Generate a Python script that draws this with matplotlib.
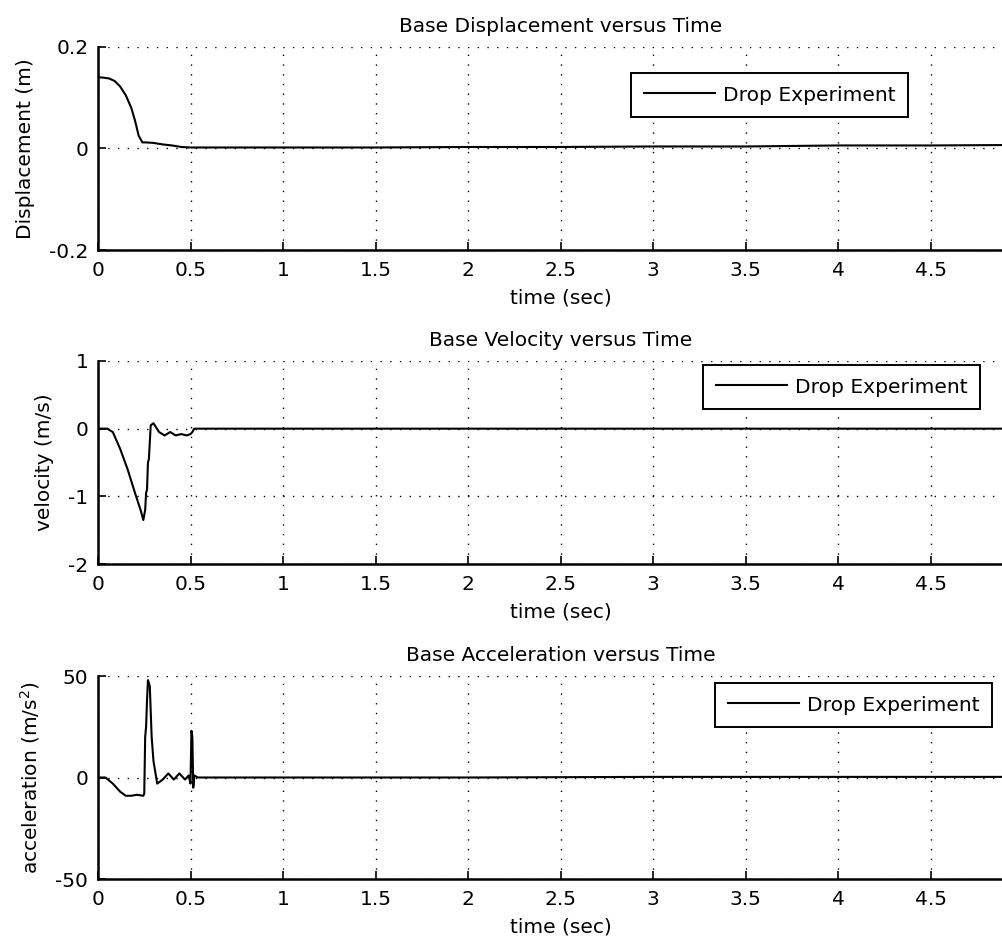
import matplotlib.pyplot as plt

plt.rcParams['font.family'] = ['DejaVu Sans']
plt.rcParams['font.size'] = 14.5

# displacement (m)
t_disp = [0, 0.02, 0.06, 0.09, 0.12, 0.15, 0.18, 0.20, 0.22, 0.24, 0.26, 0.30, 0.35, 0.40, 0.45, 0.50,
          1.0, 1.5, 2.0, 2.5, 3.0, 3.5, 4.0, 4.5, 5.0]
disp = [0.14, 0.14, 0.138, 0.133, 0.122, 0.105, 0.08, 0.055, 0.025, 0.012, 0.012, 0.011, 0.008, 0.006, 0.003, 0.002,
        0.002, 0.002, 0.003, 0.003, 0.004, 0.004, 0.006, 0.006, 0.007]

# velocity (m/s)
t_vel = [0, 0.05, 0.08, 0.12, 0.16, 0.20, 0.23, 0.245, 0.255, 0.26, 0.265, 0.27, 0.275, 0.285, 0.30, 0.33,
         0.36, 0.39, 0.42, 0.45, 0.48, 0.50, 0.51, 0.52, 0.55, 1.0, 2.0, 3.0, 4.0, 5.0]
vel = [0, 0, -0.05, -0.3, -0.6, -0.95, -1.2, -1.35, -1.2, -0.95, -0.9, -0.5, -0.45, 0.05, 0.08, -0.05,
       -0.1, -0.05, -0.1, -0.08, -0.1, -0.08, -0.05, 0, 0, 0, 0, 0, 0, 0]

# acceleration (m/s^2)
t_acc = [0, 0.04, 0.08, 0.12, 0.15, 0.18, 0.21, 0.245, 0.25, 0.255, 0.26, 0.265, 0.27, 0.28, 0.29, 0.30,
         0.32, 0.35, 0.38, 0.41, 0.44, 0.47, 0.49, 0.50, 0.505, 0.51, 0.515, 0.52, 0.54, 1.0, 2.0, 3.0, 4.0, 5.0]
acc = [0, 0, -3, -7, -9, -9, -8.5, -9, -8, 20, 25, 38, 48, 45, 20, 8,
       -3, -1, 2, -1, 2, -1, 1, -3, 23, 20, -5, 1, 0, 0, 0, 0.3, 0.3, 0.3]

titles = ['Base Displacement versus Time', 'Base Velocity versus Time', 'Base Acceleration versus Time']
ylabels = ['Displacement (m)', 'velocity (m/s)', 'acceleration (m/s$^2$)']
ylims = [(-0.2, 0.2), (-2, 1), (-50, 50)]
yticks = [[-0.2, 0, 0.2], [-2, -1, 0, 1], [-50, 0, 50]]
yticklabels = [['-0.2', '0', '0.2'], ['-2', '-1', '0', '1'], ['-50', '0', '50']]
xticks = [0, 0.5, 1, 1.5, 2, 2.5, 3, 3.5, 4, 4.5]
xticklabels = ['0', '0.5', '1', '1.5', '2', '2.5', '3', '3.5', '4', '4.5']

W, H = 1002, 946
fig = plt.figure(figsize=(W / 100, H / 100), dpi=100)
tops = [47, 361, 676]
ax_h = 203
left, right = 98, 1023
# legend box corners in pixels (right, top)
legend_pos = [(908, 73), (980, 365), (992, 683)]

data = [(t_disp, disp), (t_vel, vel), (t_acc, acc)]
for i, (t, y) in enumerate(data):
    top = tops[i]
    ax = fig.add_axes([left / W, 1 - (top + ax_h) / H, (right - left) / W, ax_h / H])
    ax.plot(t, y, color='black', lw=1.5, label='Drop Experiment')
    ax.set_xlim(0, 5)
    ax.set_ylim(*ylims[i])
    ax.set_xticks(xticks)
    ax.set_xticklabels(xticklabels)
    ax.set_yticks(yticks[i])
    ax.set_yticklabels(yticklabels[i])
    ax.grid(True, color='black', linestyle=(0, (1, 6)), linewidth=1.0)
    ax.spines['top'].set_visible(False)
    ax.spines['right'].set_visible(False)
    ax.spines['left'].set_linewidth(1.8)
    ax.spines['bottom'].set_linewidth(1.8)
    ax.tick_params(direction='in', length=6, width=1.2)
    ax.tick_params(axis='x', pad=8)
    ax.tick_params(axis='y', pad=7)
    ax.set_title(titles[i], fontsize=14.5, pad=11)
    ax.set_xlabel('time (sec)', labelpad=6)
    ax.set_ylabel(ylabels[i], labelpad=10)
    rx, ty = legend_pos[i]
    leg = ax.legend(loc='upper right', bbox_to_anchor=(rx / W, 1 - ty / H), bbox_transform=fig.transFigure,
                    borderaxespad=0, frameon=True, fancybox=False, edgecolor='black', framealpha=1,
                    borderpad=0.62, handlelength=3.5, handletextpad=0.4, fontsize=14.6)
    leg.get_frame().set_linewidth(1.4)

fig.savefig('out.png', dpi=100)
